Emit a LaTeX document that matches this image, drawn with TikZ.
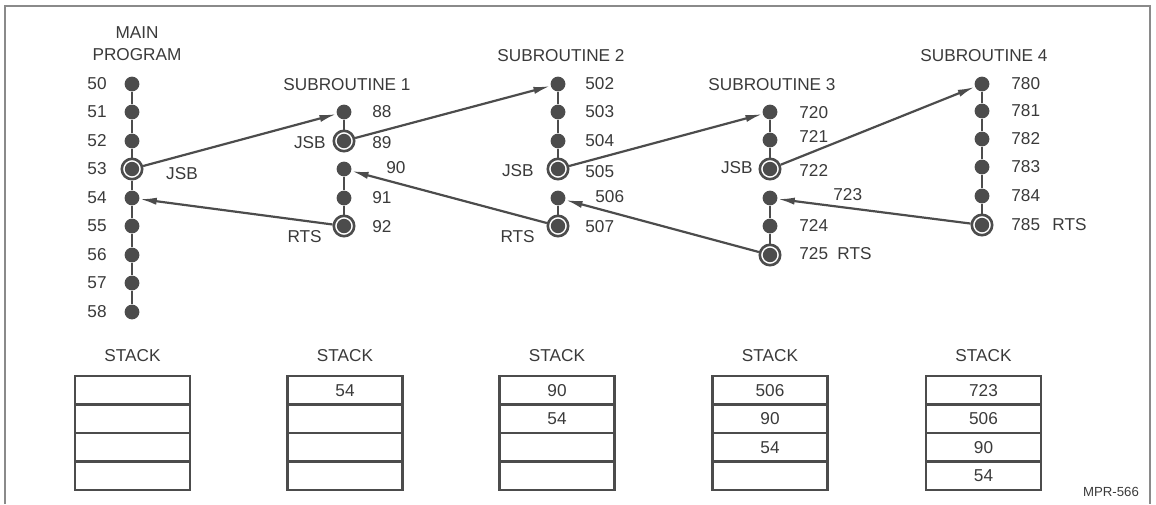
\documentclass[tikz,border=0pt]{standalone}
\usepackage{fontspec}
\setmainfont{Liberation Sans}
\usetikzlibrary{positioning,arrows.meta}
\definecolor{ink}{HTML}{4C4C4C}
\definecolor{txt}{HTML}{3A3A3A}
\definecolor{rule}{HTML}{8A8A8A}
\tikzset{
  pdot/.style={circle,fill=ink,inner sep=0pt,minimum size=7.4pt},
  pring/.style={circle,draw=ink,line width=1.3pt,fill=white,inner sep=0pt,minimum size=10.2pt,
    path picture={\fill[ink] (path picture bounding box.center) circle (3.6pt);}},
  lbl/.style={text=txt,font=\fontsize{8.6}{11}\selectfont,inner sep=0pt},
  stackcell/.style={draw=ink,line width=1.2pt,outer sep=0pt,minimum width=57.5pt,
    minimum height=14.25pt,inner sep=0pt,text=txt,font=\fontsize{8.6}{11}\selectfont},
  link/.style={draw=ink,line width=0.9pt},
  jump/.style={draw=ink,line width=1.1pt,-{Latex[length=8.5pt,width=3.6pt]}}
}
\begin{document}
\begin{tikzpicture}[x=0.5pt,y=-0.5pt]
  \useasboundingbox (0,0) rectangle (1156,504);
  \draw[rule,line width=0.6pt] (5,504) -- (5,6) -- (1150,6) -- (1150,504);

  % main program
  \node[lbl,align=center] (mainttl) at (137,44) {MAIN\\PROGRAM};
  \foreach \n/\y in {50/84, 51/112, 52/141, 54/198, 55/226, 56/255, 57/283, 58/312}
    \node[pdot] (m\n) at (132,\y) {};
  \node[pring] (m53) at (132,169) {};
  \foreach \n/\y in {50/84, 51/112, 52/141, 53/169, 54/198, 55/226, 56/255, 57/283, 58/312}
    \node[lbl,anchor=east] (ml\n) at (107,\y) {\n};
  \node[lbl] (mjsb) at (182,174) {JSB};
  \draw[link] (m50) -- (m51) -- (m52) -- (m53) -- (m54) -- (m55) -- (m56) -- (m57) -- (m58);

  % subroutine 1
  \node[lbl] (ttla) at (347,85) {SUBROUTINE 1};
  \foreach \n/\y in {88/112, 90/169, 91/198}
    \node[pdot] (a\n) at (344,\y) {};
  \foreach \n/\y in {89/141, 92/226}
    \node[pring] (a\n) at (344,\y) {};
  \foreach \n/\x/\y in {88/372/112, 89/372/143, 90/386/168, 91/372/198, 92/372/227}
    \node[lbl,anchor=west] (al\n) at (\x,\y) {\n};
  \node[lbl,anchor=east] (ajsb) at (326,143) {JSB};
  \node[lbl,anchor=east] (arts) at (322,237) {RTS};
  \draw[link] (a88) -- (a89);
  \draw[link] (a90) -- (a91) -- (a92);

  % subroutine 2
  \node[lbl] (ttlb) at (561,56) {SUBROUTINE 2};
  \foreach \n/\y in {502/84, 503/112, 504/141, 506/198}
    \node[pdot] (b\n) at (558,\y) {};
  \foreach \n/\y in {505/169, 507/226}
    \node[pring] (b\n) at (558,\y) {};
  \foreach \n/\x/\y in {502/585/84, 503/585/112, 504/585/141, 505/585/172, 506/595/197, 507/585/227}
    \node[lbl,anchor=west] (bl\n) at (\x,\y) {\n};
  \node[lbl,anchor=east] (bjsb) at (534,171) {JSB};
  \node[lbl,anchor=east] (brts) at (535,237) {RTS};
  \draw[link] (b502) -- (b503) -- (b504) -- (b505);
  \draw[link] (b506) -- (b507);

  % subroutine 3
  \node[lbl] (ttlc) at (772,85) {SUBROUTINE 3};
  \foreach \n/\y in {720/112, 721/140, 723/198, 724/226}
    \node[pdot] (c\n) at (770,\y) {};
  \foreach \n/\y in {722/169, 725/255}
    \node[pring] (c\n) at (770,\y) {};
  \foreach \n/\x/\y in {720/799/113, 721/799/136, 722/799/170, 723/833/195, 724/799/225, 725/799/254}
    \node[lbl,anchor=west] (cl\n) at (\x,\y) {\n};
  \node[lbl,anchor=east] (cjsb) at (753,168) {JSB};
  \node[lbl,anchor=west] (crts) at (837,254) {RTS};
  \draw[link] (c720) -- (c721) -- (c722);
  \draw[link] (c723) -- (c724) -- (c725);

  % subroutine 4
  \node[lbl] (ttld) at (984,56) {SUBROUTINE 4};
  \foreach \n/\y in {780/84, 781/111, 782/139, 783/167, 784/196}
    \node[pdot] (d\n) at (982,\y) {};
  \node[pring] (d785) at (982,225) {};
  \foreach \n/\y in {780/84, 781/111, 782/139, 783/167, 784/196, 785/225}
    \node[lbl,anchor=west] (dl\n) at (1011,\y) {\n};
  \node[lbl,anchor=west] (drts) at (1052,225) {RTS};
  \draw[link] (d780) -- (d781) -- (d782) -- (d783) -- (d784) -- (d785);

  % calls and returns
  \draw[jump] (m53) -- (a88);
  \draw[jump] (a89) -- (b502);
  \draw[jump] (b505) -- (c720);
  \draw[jump] (c722) -- (d780);
  \draw[jump] (d785) -- (c723);
  \draw[jump] (c725) -- (b506);
  \draw[jump] (b507) -- (a90);
  \draw[jump] (a92) -- (m54);

  % stacks
  \foreach \k/\x/\ca/\cb/\cc/\cd in {1/132.5/{}/{}/{}/{}, 2/345/54/{}/{}/{},
      3/557/90/54/{}/{}, 4/770/506/90/54/{}, 5/983.5/723/506/90/54}
  {
    \node[lbl] (st\k) at (\x,356) {STACK};
    \node[stackcell] (s\k-a) at (\x,390.25) {\ca};
    \node[stackcell,below=0pt of s\k-a] (s\k-b) {\cb};
    \node[stackcell,below=0pt of s\k-b] (s\k-c) {\cc};
    \node[stackcell,below=0pt of s\k-c] (s\k-d) {\cd};
  }
  \node[lbl,font=\fontsize{6.6}{8}\selectfont] (mpr) at (1111,492) {MPR-566};
\end{tikzpicture}
\end{document}
